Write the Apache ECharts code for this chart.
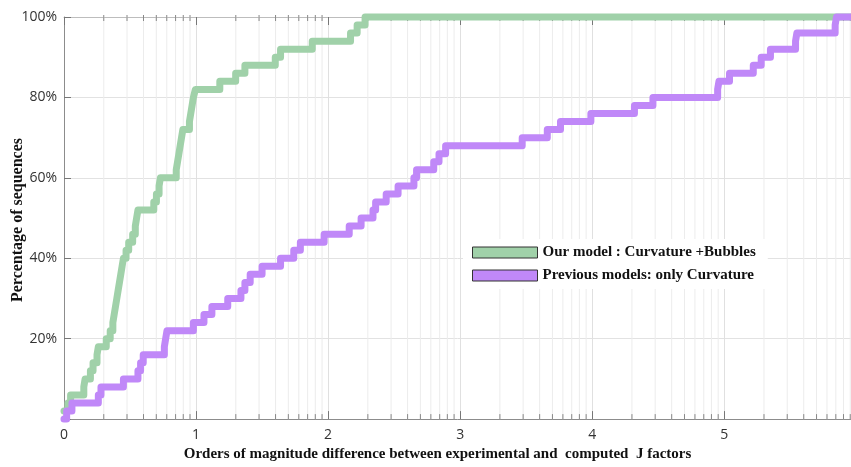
<!DOCTYPE html>
<html><head><meta charset="utf-8">
<script src="https://cdn.jsdelivr.net/npm/echarts@6/dist/echarts.min.js"></script>
<style>html,body{margin:0;padding:0;background:#fff}#c{width:851px;height:467px}</style>
</head><body><div id="c"></div>
<script>
const seriesNames = ['Our model : Curvature +Bubbles', 'Previous models: only Curvature'];
// Our model (green) : x = orders of magnitude, y = % of sequences (level after step)
const ourModelX = [0, 0.03, 0.05, 0.15, 0.16, 0.2, 0.22, 0.25, 0.26, 0.32, 0.35, 0.37, 0.38, 0.39, 0.40, 0.41, 0.42, 0.43, 0.44, 0.45, 0.47, 0.49, 0.52, 0.54, 0.55, 0.56, 0.68, 0.70, 0.72, 0.73, 0.85, 0.86, 0.87, 0.88, 0.89, 0.90, 0.95, 0.96, 0.97, 0.98, 0.995, 1.18, 1.30, 1.37, 1.60, 1.64, 1.88, 2.17, 2.22, 2.28, 5.96];
const ourModelY = [2, 4, 6, 8, 10, 12, 14, 16, 18, 20, 22, 24, 26, 28, 30, 32, 34, 36, 38, 40, 42, 44, 46, 48, 50, 52, 54, 56, 58, 60, 62, 64, 66, 68, 70, 72, 74, 76, 78, 80, 82, 84, 86, 88, 90, 92, 94, 96, 98, 100, 100];
// Previous models (purple)
const prevModelX = [0, 0.02, 0.06, 0.26, 0.28, 0.45, 0.56, 0.58, 0.60, 0.76, 0.77, 0.78, 0.98, 1.06, 1.12, 1.24, 1.34, 1.37, 1.41, 1.50, 1.64, 1.74, 1.79, 1.97, 2.16, 2.25, 2.34, 2.36, 2.44, 2.53, 2.65, 2.67, 2.80, 2.84, 2.89, 3.47, 3.66, 3.76, 3.99, 4.32, 4.46, 4.95, 4.96, 5.04, 5.22, 5.28, 5.35, 5.54, 5.55, 5.84, 5.85, 5.96];
const prevModelY = [0, 2, 4, 6, 8, 10, 12, 14, 16, 18, 20, 22, 24, 26, 28, 30, 32, 34, 36, 38, 40, 42, 44, 46, 48, 50, 52, 54, 56, 58, 60, 62, 64, 66, 68, 70, 72, 74, 76, 78, 80, 82, 84, 86, 88, 90, 92, 94, 96, 98, 100, 100];
const xTickLabels = ['0', '1', '2', '3', '4', '5'];
const yTickLabels = ['20%', '40%', '60%', '80%', '100%'];
const xAxisTitle = 'Orders of magnitude difference between experimental and  computed  J factors';
const yAxisTitle = 'Percentage of sequences';

const X_MAX = 5.96;
const GREEN = '#a0d1a9';
const PURPLE = '#c088f8';
const SERIF = '"Liberation Serif", "DejaVu Serif", serif';
const SANS = '"Open Sans", "Liberation Sans", sans-serif';

// log-paper minor grid positions (styling only)
const minorPos = [];
for (let n = 0; n < 6; n++) for (let k = 2; k <= 9; k++) {
  const v = n + Math.log10(k);
  if (v < X_MAX) minorPos.push([v]);
}

const chart = echarts.init(document.getElementById('c'), null, {renderer: 'canvas'});
chart.setOption({
  animation: false,
  backgroundColor: '#fff',
  grid: {left: 64, right: 0, top: 17, bottom: 35},
  xAxis: [{
    type: 'value', min: 0, max: X_MAX, interval: 1,
    axisLine: {show: true, lineStyle: {color: '#8c8c8c', width: 1}},
    axisTick: {show: true, inside: true, length: 8, lineStyle: {color: '#777'}},
    axisLabel: {color: '#333', fontSize: 14, fontFamily: SANS, margin: 9, showMaxLabel: false,
      formatter: v => (Number.isInteger(v) && v < xTickLabels.length) ? xTickLabels[v] : ''},
    splitLine: {show: true, lineStyle: {color: '#e0e0e0'}},
    name: xAxisTitle, nameLocation: 'middle', nameGap: 22,
    nameTextStyle: {fontFamily: SERIF, fontWeight: 'bold', fontSize: 15, color: '#111', padding: [0, 40, 0, 0]}
  }, {
    type: 'value', min: 0, max: X_MAX, interval: 1, position: 'top',
    axisLine: {show: true, lineStyle: {color: '#bdbdbd'}},
    axisTick: {show: true, inside: true, length: 8, lineStyle: {color: '#777'}},
    axisLabel: {show: false}, splitLine: {show: false}
  }],
  yAxis: {
    type: 'value', min: 0, max: 100, interval: 20,
    axisLine: {show: true, lineStyle: {color: '#8c8c8c'}},
    axisTick: {show: true, inside: true, length: 7, lineStyle: {color: '#777'}},
    axisLabel: {color: '#333', fontSize: 14, fontFamily: SANS, margin: 7,
      formatter: v => v > 0 ? yTickLabels[v / 20 - 1] : ''},
    splitLine: {show: true, lineStyle: {color: '#e2e2e2'}}
  },
  legend: {
    orient: 'vertical', left: 463, top: 239,
    backgroundColor: '#fff', padding: [6, 12, 6, 9],
    itemWidth: 65, itemHeight: 11, itemGap: 8, icon: 'rect',
    itemStyle: {borderColor: '#333', borderWidth: 1},
    textStyle: {fontFamily: SERIF, fontWeight: 'bold', fontSize: 15, color: '#111'},
    data: seriesNames
  },
  graphic: [{
    type: 'text', x: 18, y: 220, rotation: Math.PI / 2,
    style: {text: yAxisTitle, font: 'bold 16px ' + SERIF, fill: '#111', textAlign: 'center', textVerticalAlign: 'middle'}
  }],
  series: [{
    type: 'custom', name: 'minorGrid', silent: true, z: 1,
    data: minorPos, encode: {x: 0},
    renderItem: function (params, api) {
      const x = api.value(0);
      const b = api.coord([x, 0]);
      const t = api.coord([x, 100]);
      return {type: 'group', children: [
        {type: 'line', shape: {x1: b[0], y1: b[1], x2: t[0], y2: t[1]}, style: {stroke: '#ececec', lineWidth: 1}},
        {type: 'line', shape: {x1: b[0], y1: b[1], x2: b[0], y2: b[1] - 5}, style: {stroke: '#888', lineWidth: 1}},
        {type: 'line', shape: {x1: t[0], y1: t[1] - 2, x2: t[0], y2: t[1] + 4}, style: {stroke: '#888', lineWidth: 1}}
      ]};
    }
  }, {
    type: 'line', name: seriesNames[0], step: 'end', symbol: 'none', showSymbol: false, clip: false, z: 3,
    data: ourModelX.map((x, i) => [x, ourModelY[i]]),
    lineStyle: {color: GREEN, width: 7, join: 'round', cap: 'round'},
    itemStyle: {color: GREEN}
  }, {
    type: 'line', name: seriesNames[1], step: 'end', symbol: 'none', showSymbol: false, clip: false, z: 4,
    data: prevModelX.map((x, i) => [x, prevModelY[i]]),
    lineStyle: {color: PURPLE, width: 7, join: 'round', cap: 'round'},
    itemStyle: {color: PURPLE}
  }]
});
</script></body></html>
